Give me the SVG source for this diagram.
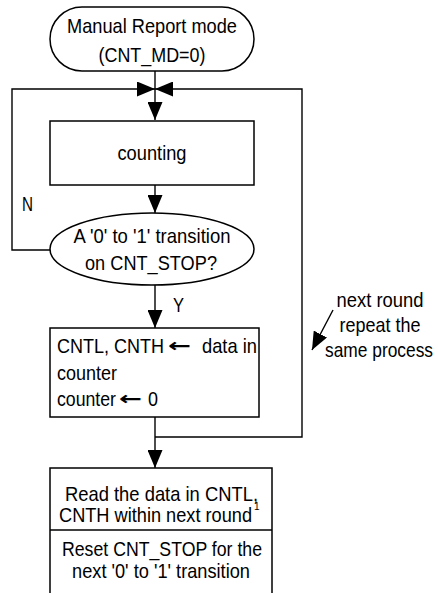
<svg xmlns="http://www.w3.org/2000/svg" width="438" height="593" viewBox="0 0 438 593">
<style>
.s{fill:#fff;stroke:#000;stroke-width:1.5}
.c{fill:none;stroke:#000;stroke-width:1.4}
text{font-family:"Liberation Sans",Arial,sans-serif;font-size:21px;fill:#000}
.m{text-anchor:middle}
.ar{font-family:"DejaVu Sans","Liberation Sans",sans-serif;font-weight:bold;font-size:19px}
</style>
<defs>
<marker id="ah" markerUnits="userSpaceOnUse" markerWidth="18" markerHeight="15" refX="18" refY="7.5" orient="auto">
<path d="M0,0 L18,7.5 L0,15 z" fill="#000"/>
</marker>
</defs>
<rect width="438" height="593" fill="#fff"/>
<g id="connectors">
<line class="c" x1="155" y1="71" x2="155" y2="120" marker-end="url(#ah)"/>
<polyline class="c" points="50,250 12,250 12,89 155,89" marker-end="url(#ah)"/>
<polyline class="c" points="155,437 302,437 302,89 155,89" marker-end="url(#ah)"/>
<line class="c" x1="155" y1="185" x2="155" y2="213" marker-end="url(#ah)"/>
<line class="c" x1="155" y1="285" x2="155" y2="328" marker-end="url(#ah)"/>
<line class="c" x1="155" y1="417" x2="155" y2="468" marker-end="url(#ah)"/>
<text x="22" y="211" textLength="11" lengthAdjust="spacingAndGlyphs">N</text>
<text x="173" y="312" textLength="11" lengthAdjust="spacingAndGlyphs">Y</text>
</g>
<g id="start">
<rect class="s" x="50" y="7" width="204" height="64" rx="32" ry="32"/>
<text class="m" x="152" y="33" textLength="170" lengthAdjust="spacingAndGlyphs">Manual Report mode</text>
<text class="m" x="152" y="62" textLength="107" lengthAdjust="spacingAndGlyphs">(CNT_MD=0)</text>
</g>
<g id="counting">
<rect class="s" x="50" y="121" width="204" height="64"/>
<text class="m" x="152" y="160" textLength="69" lengthAdjust="spacingAndGlyphs">counting</text>
</g>
<g id="decision">
<ellipse class="s" cx="152" cy="249" rx="102" ry="36"/>
<text class="m" x="152" y="243" textLength="157" lengthAdjust="spacingAndGlyphs">A '0' to '1' transition</text>
<text class="m" x="151" y="270" textLength="132" lengthAdjust="spacingAndGlyphs">on CNT_STOP?</text>
</g>
<g id="latch">
<rect class="s" x="50" y="328" width="209" height="89"/>
<text y="353"><tspan x="57" textLength="107" lengthAdjust="spacingAndGlyphs">CNTL, CNTH</tspan><tspan class="ar" x="168" y="352" textLength="23" lengthAdjust="spacingAndGlyphs">←</tspan><tspan x="202" y="353" textLength="55" lengthAdjust="spacingAndGlyphs">data in</tspan></text>
<text x="57" y="380" textLength="60" lengthAdjust="spacingAndGlyphs">counter</text>
<text y="406"><tspan x="57" textLength="59" lengthAdjust="spacingAndGlyphs">counter</tspan><tspan class="ar" x="119" y="405" textLength="23" lengthAdjust="spacingAndGlyphs">←</tspan><tspan x="148" y="406" textLength="10" lengthAdjust="spacingAndGlyphs">0</tspan></text>
</g>
<g id="read">
<rect class="s" x="50" y="468" width="222" height="140"/>
<line class="s" x1="50" y1="530" x2="272" y2="530"/>
<text class="m" x="161.5" y="501" textLength="193" lengthAdjust="spacingAndGlyphs">Read the data in CNTL,</text>
<text y="522"><tspan x="59" textLength="193" lengthAdjust="spacingAndGlyphs">CNTH within next round</tspan><tspan x="254" y="510" style="font-size:10px">1</tspan></text>
<text class="m" x="162" y="556" textLength="200" lengthAdjust="spacingAndGlyphs">Reset CNT_STOP for the</text>
<text class="m" x="161" y="578" textLength="178" lengthAdjust="spacingAndGlyphs">next '0' to '1' transition</text>
</g>
<g id="note">
<line class="c" x1="333" y1="310" x2="312" y2="350" marker-end="url(#ah)"/>
<text class="m" x="380" y="307" textLength="87" lengthAdjust="spacingAndGlyphs">next round</text>
<text class="m" x="380" y="332" textLength="81" lengthAdjust="spacingAndGlyphs">repeat the</text>
<text class="m" x="379" y="357" textLength="108" lengthAdjust="spacingAndGlyphs">same process</text>
</g>
</svg>
